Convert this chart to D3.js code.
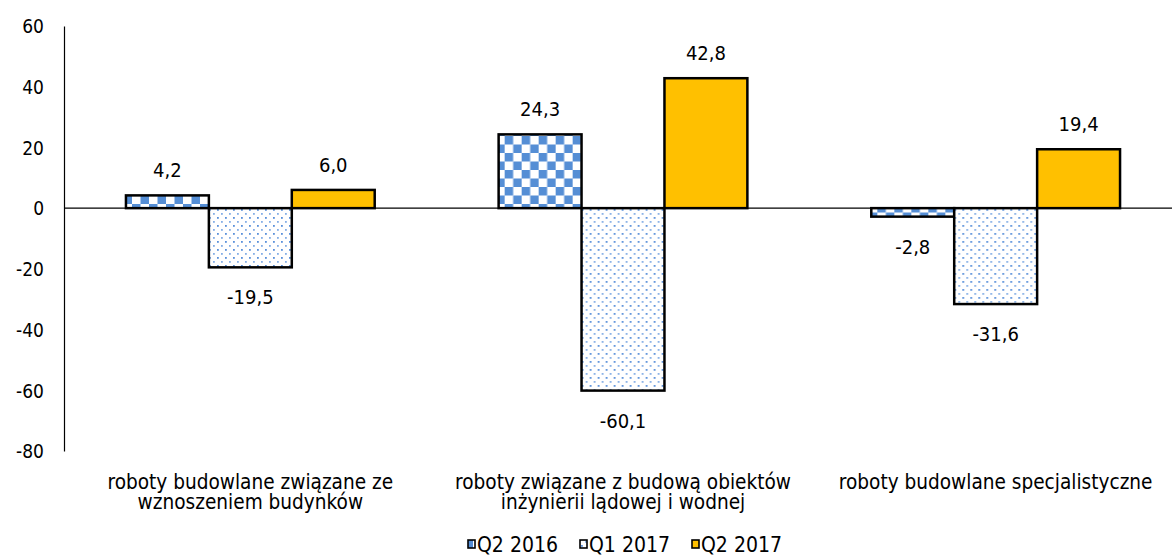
<!DOCTYPE html>
<html>
<head>
<meta charset="utf-8">
<script src="https://cdn.jsdelivr.net/npm/d3@7"></script>
<style>
  html, body { margin: 0; padding: 0; background: #fff; }
  svg { display: block; font-family: "DejaVu Sans Condensed", "DejaVu Sans", sans-serif; font-stretch: condensed; }
</style>
</head>
<body>
<svg id="chart" width="1172" height="556"></svg>
<script>
// Construction output groups (two-line labels)
const categories = [
  ["roboty budowlane związane ze", "wznoszeniem budynków"],
  ["roboty związane z budową obiektów", "inżynierii lądowej i wodnej"],
  ["roboty budowlane specjalistyczne"]
];
const seriesNames = ["Q2 2016", "Q1 2017", "Q2 2017"];
const q2_2016 = [4.2, 24.3, -2.8];
const q1_2017 = [-19.5, -60.1, -31.6];
const q2_2017 = [6.0, 42.8, 19.4];
const yTicks = [60, 40, 20, 0, -20, -40, -60, -80];

const seriesValues = [q2_2016, q1_2017, q2_2017];
const fills = ["url(#checker)", "url(#dots)", "#FFC000"];

(function draw() {
const svg = d3.select("#chart");
const W = 1172;
const plotLeft = 64, plotRight = 1182, plotTop = 26, plotBottom = 451;

const defs = svg.append("defs");
// checkerboard fill
const chk = defs.append("pattern").attr("id", "checker")
  .attr("patternUnits", "userSpaceOnUse").attr("width", 17).attr("height", 17);
chk.append("rect").attr("width", 17).attr("height", 17).attr("fill", "#fff");
chk.append("rect").attr("width", 8.5).attr("height", 8.5).attr("fill", "#558ED5");
chk.append("rect").attr("x", 8.5).attr("y", 8.5).attr("width", 8.5).attr("height", 8.5).attr("fill", "#558ED5");
// dotted fill
const dot = defs.append("pattern").attr("id", "dots")
  .attr("patternUnits", "userSpaceOnUse").attr("width", 8).attr("height", 8);
dot.append("rect").attr("width", 8).attr("height", 8).attr("fill", "#fff");
dot.append("rect").attr("x", 1).attr("y", 1).attr("width", 1.8).attr("height", 1.8).attr("fill", "#5A90DA");
dot.append("rect").attr("x", 5).attr("y", 5).attr("width", 1.8).attr("height", 1.8).attr("fill", "#85AEE6");
// legend swatch for the checkerboard series
const chkSmall = defs.append("pattern").attr("id", "checkerSmall")
  .attr("patternUnits", "objectBoundingBox").attr("width", 1).attr("height", 1);
chkSmall.append("rect").attr("width", 5).attr("height", 10).attr("fill", "#558ED5");
chkSmall.append("rect").attr("x", 5).attr("width", 5).attr("height", 10).attr("fill", "#fff");

const y = d3.scaleLinear().domain([-80, 60]).range([plotBottom, plotTop]);
const x0 = d3.scaleBand().domain(d3.range(categories.length)).range([plotLeft, plotRight]).padding(0);
const barW = x0.bandwidth() * 0.2225;
const x1 = d3.scaleBand().domain(d3.range(seriesNames.length))
  .range([x0.bandwidth() / 2 - 1.5 * barW, x0.bandwidth() / 2 + 1.5 * barW]).padding(0);

// y axis
const yAxis = d3.axisLeft(y).tickValues(yTicks).tickSize(0).tickPadding(0)
  .tickFormat(d => String(d));
const gy = svg.append("g").attr("transform", `translate(${plotLeft},0)`).call(yAxis);
gy.select(".domain").attr("stroke", "#000").attr("stroke-width", 1.2);
gy.selectAll(".tick text").attr("x", -20).attr("dy", "0.36em").attr("text-anchor", "end")
  .attr("font-size", 19).attr("fill", "#000")
  .attr("font-family", '"DejaVu Sans Condensed", "DejaVu Sans", sans-serif');

// bars
const groups = svg.append("g").selectAll("g").data(categories).join("g")
  .attr("transform", (d, i) => `translate(${x0(i)},0)`);

seriesValues.forEach((vals, s) => {
  groups.append("rect")
    .attr("x", x1(s))
    .attr("width", x1.bandwidth())
    .attr("y", (d, i) => y(Math.max(0, vals[i])))
    .attr("height", (d, i) => Math.abs(y(vals[i]) - y(0)))
    .attr("fill", fills[s])
    .attr("stroke", "#000").attr("stroke-width", 2.5);
});

// zero line
svg.append("line").attr("x1", plotLeft).attr("x2", W)
  .attr("y1", y(0)).attr("y2", y(0)).attr("stroke", "#000").attr("stroke-width", 1.2);

// value labels
const fmt = v => v.toFixed(1).replace(".", ",");
seriesValues.forEach((vals, s) => {
  groups.append("text")
    .attr("x", x1(s) + x1.bandwidth() / 2)
    .attr("y", (d, i) => vals[i] >= 0 ? y(vals[i]) - 18 : y(vals[i]) + 37)
    .attr("text-anchor", "middle").attr("font-size", 20).attr("fill", "#000")
    .text((d, i) => fmt(vals[i]));
});

// category labels, one text element per line
groups.each(function(lines) {
  const g = d3.select(this);
  lines.forEach((ln, k) => {
    g.append("text")
      .attr("x", x0.bandwidth() / 2).attr("y", 489 + k * 20)
      .attr("text-anchor", "middle").attr("font-size", 20.6).attr("fill", "#000")
      .text(ln);
  });
});

// legend
const legendX = [468, 580, 692];
const lg = svg.append("g").selectAll("g").data(seriesNames).join("g")
  .attr("transform", (d, i) => `translate(${legendX[i]},544)`);
lg.append("rect").attr("x", 0).attr("y", -4).attr("width", 7).attr("height", 8)
  .attr("fill", (d, i) => i === 2 ? "#FFC000" : (i === 0 ? "url(#checkerSmall)" : "url(#dots)"))
  .attr("stroke", "#000").attr("stroke-width", 1.6);
lg.append("text").attr("x", 9).attr("y", 7.5).attr("font-size", 21).attr("fill", "#000")
  .text(d => d);
})();
</script>
</body>
</html>
